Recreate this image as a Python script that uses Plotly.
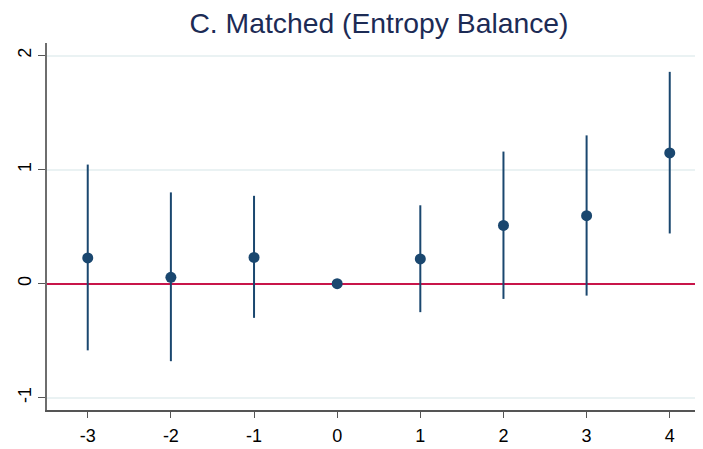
import plotly.graph_objects as go

periods = [-3, -2, -1, 0, 1, 2, 3, 4]
estimates = [0.225, 0.055, 0.23, 0.0, 0.217, 0.51, 0.596, 1.146]
ci_upper = [1.044, 0.80, 0.77, 0.0, 0.687, 1.158, 1.30, 1.857]
ci_lower = [-0.585, -0.68, -0.30, 0.0, -0.25, -0.134, -0.105, 0.44]
x_ticks = [-3, -2, -1, 0, 1, 2, 3, 4]
y_ticks = [-1, 0, 1, 2]
title_text = "C. Matched (Entropy Balance)"

NAVY = "#1a476f"
RED = "#c8154a"
FONT = "Arial, Liberation Sans, sans-serif"

err_plus = [u - e for u, e in zip(ci_upper, estimates)]
err_minus = [e - l for e, l in zip(estimates, ci_lower)]

fig = go.Figure()
fig.add_trace(go.Scatter(
    x=periods, y=estimates, mode="markers",
    marker=dict(color=NAVY, size=11),
    error_y=dict(type="data", symmetric=False, array=err_plus, arrayminus=err_minus,
                 color=NAVY, thickness=2, width=0),
    showlegend=False,
))

fig.update_layout(
    width=703, height=449,
    margin=dict(l=39, r=8, t=35, b=47, autoexpand=False),
    paper_bgcolor="white", plot_bgcolor="white",
    title=dict(text=title_text, x=0.5277, xanchor="center", y=0.9666, yanchor="middle",
               font=dict(family=FONT, size=28.3, color="#1c2b55")),
    font=dict(family=FONT, color="black"),
)
fig.update_xaxes(
    range=[-3.49, 4.4], tickvals=x_ticks, ticktext=[str(v) for v in x_ticks],
    showgrid=False, zeroline=False,
    showline=True, linecolor="#555555", linewidth=1.5,
    ticks="outside", ticklen=6, tickcolor="#555555", tickwidth=1.2,
    ticklabelstandoff=3,
    tickfont=dict(family=FONT, size=18, color="black"),
)
fig.update_yaxes(
    range=[-1.108, 2.11], tickvals=y_ticks, ticktext=[str(v) for v in y_ticks],
    showgrid=True, gridcolor="#eaf2f3", gridwidth=1.5,
    zeroline=True, zerolinecolor=RED, zerolinewidth=2,
    showline=True, linecolor="#6e6e6e", linewidth=1.5,
    ticks="outside", ticklen=7, tickcolor="#555555", tickwidth=1.2,
    tickangle=-90,
    tickfont=dict(family=FONT, size=18, color="black"),
)

fig.write_html("out.html")
